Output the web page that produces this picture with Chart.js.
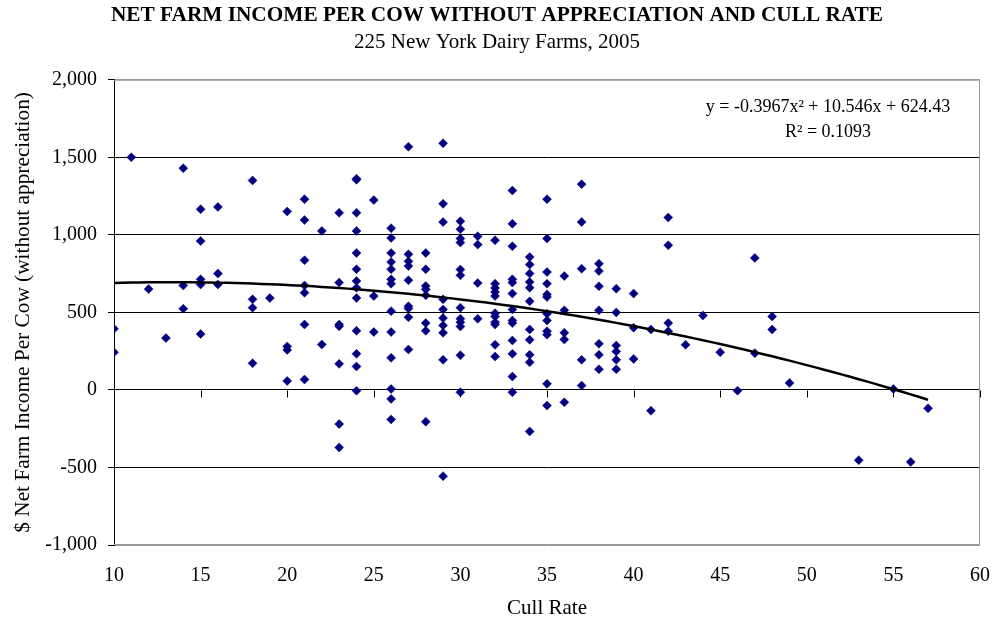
<!DOCTYPE html>
<html>
<head>
<meta charset="utf-8">
<script src="https://cdn.jsdelivr.net/npm/chart.js@4.4.0/dist/chart.umd.min.js"></script>
<style>
  html, body { margin: 0; padding: 0; background: #fff; }
  #wrap { width: 994px; height: 625px; }
</style>
</head>
<body>
<div id="wrap"><canvas id="myChart" width="994" height="625"></canvas></div>
<script>
// cull rate (x) and net farm income per cow (y), one farm per position
const cullRate = [
  10, 10, 11, 12, 13, 14, 14, 14,
  15, 15, 15, 15, 15, 16, 16, 16,
  18, 18, 18, 18, 19, 20, 20, 20, 20,
  21, 21, 21, 21, 21, 21, 21, 22, 22,
  23, 23, 23, 23, 23, 23, 23,
  24, 24, 24, 24, 24, 24, 24, 24, 24, 24, 24, 24, 24,
  25, 25, 25,
  26, 26, 26, 26, 26, 26, 26, 26, 26, 26, 26, 26, 26,
  27, 27, 27, 27, 27, 27, 27, 27, 27,
  28, 28, 28, 28, 28, 28, 28, 28,
  29, 29, 29, 29, 29, 29, 29, 29, 29, 29,
  30, 30, 30, 30, 30, 30, 30, 30, 30, 30, 30, 30,
  31, 31, 31, 31,
  32, 32, 32, 32, 32, 32, 32, 32, 32, 32, 32,
  33, 33, 33, 33, 33, 33, 33, 33, 33, 33, 33, 33, 33,
  34, 34, 34, 34, 34, 34, 34, 34, 34, 34, 34,
  35, 35, 35, 35, 35, 35, 35, 35, 35, 35, 35, 35,
  36, 36, 36, 36, 36,
  37, 37, 37, 37, 37,
  38, 38, 38, 38, 38, 38, 38,
  39, 39, 39, 39, 39, 39,
  40, 40, 40, 41, 41,
  42, 42, 42, 42, 43, 44, 45, 46, 47, 47, 48, 48, 49,
  53, 55, 56, 57
];
const netIncome = [
  394, 243, 1500, 650, 334, 1430, 674, 524,
  1165, 960, 713, 680, 360, 1180, 750, 680,
  1351, 584, 530, 172, 592, 1150, 280, 258, 58,
  1230, 1095, 836, 674, 627, 422, 67, 1025, 293,
  1142, 692, 422, 410, 168, -220, -371,
  1362, 1355, 1142, 1025, 883, 778, 702, 659, 592, 381, 233, 151, -5,
  1224, 605, 373,
  1043, 980, 883, 825, 778, 713, 685, 508, 373, 207, 6, -58, -190,
  1568, 875, 829, 799, 707, 540, 525, 469, 261,
  883, 778, 670, 648, 610, 431, 381, -205,
  1590, 1200, 1082, 584, 519, 463, 416, 368, 194, -556,
  1088, 1036, 976, 950, 776, 739, 530, 459, 437, 409, 224, -15,
  991, 937, 689, 459,
  965, 685, 657, 631, 605, 495, 474, 437, 422, 291, 215,
  1286, 1071, 926, 713, 692, 621, 519, 448, 431, 319, 233, 86, -15,
  857, 808, 750, 696, 659, 571, 390, 323, 226, 178, -268,
  1230, 976, 760, 685, 616, 599, 491, 448, 379, 356, 39, -101,
  734, 513, 368, 325, -80,
  1327, 1082, 782, 194, 28,
  814, 767, 668, 513, 297, 226, 133,
  653, 500, 286, 248, 194, 133,
  621, 401, 200, 390, -134,
  1112, 933, 431, 379, 291, 480, 243, -5, 851, 237, 474, 390, 45,
  -453, 6, -464, -119
];

// polynomial trendline shown on the chart: y = a*x^2 + b*x + c
const trendCoef = [-0.3967, 10.546, 624.43];
const trendRange = [10, 57];
const trendLabel = 'y = -0.3967x\u00B2 + 10.546x + 624.43';
const r2Label = 'R\u00B2 = 0.1093';

const xTicks = [10, 15, 20, 25, 30, 35, 40, 45, 50, 55, 60];

const points = cullRate.map((x, i) => ({ x: x, y: netIncome[i] }));

const trend = [];
for (let x = trendRange[0]; x <= trendRange[1] + 1e-9; x += 0.5) {
  trend.push({ x: x, y: trendCoef[0] * x * x + trendCoef[1] * x + trendCoef[2] });
}

const serif = 'Liberation Serif, Times New Roman, serif';

// grey plot border, tick marks on the zero line, equation text
const extras = {
  id: 'extras',
  beforeDatasetsDraw(chart) {
    const { ctx, chartArea: a, scales } = chart;
    ctx.save();
    ctx.strokeStyle = '#999';
    ctx.lineWidth = 1;
    ctx.beginPath();
    ctx.moveTo(a.left, a.top + 0.5);
    ctx.lineTo(a.right - 0.5, a.top + 0.5);
    ctx.lineTo(a.right - 0.5, a.bottom - 0.5);
    ctx.lineTo(a.left, a.bottom - 0.5);
    ctx.stroke();
    const y0 = Math.round(scales.y.getPixelForValue(0)) + 0.5;
    ctx.strokeStyle = '#000';
    ctx.beginPath();
    xTicks.forEach(v => {
      const px = Math.round(scales.x.getPixelForValue(v)) + 0.5;
      ctx.moveTo(px, y0);
      ctx.lineTo(px, y0 + 7);
    });
    ctx.stroke();
    ctx.restore();
  },
  afterDraw(chart) {
    const { ctx, chartArea: a } = chart;
    ctx.save();
    ctx.fillStyle = '#000';
    ctx.font = '18px ' + serif;
    ctx.textAlign = 'center';
    ctx.textBaseline = 'middle';
    ctx.fillText(trendLabel, a.right - 152, a.top + 28);
    ctx.fillText(r2Label, a.right - 152, a.top + 53);
    ctx.restore();
  }
};

const ctx = document.getElementById('myChart').getContext('2d');
new Chart(ctx, {
  type: 'scatter',
  data: {
    datasets: [
      {
        type: 'line',
        label: 'Trend',
        data: trend,
        borderColor: '#000',
        borderWidth: 2.5,
        pointRadius: 0,
        fill: false,
        tension: 0
      },
      {
        label: 'Farms',
        data: points,
        pointStyle: 'rectRot',
        pointRadius: 4.5,
        pointBorderWidth: 0.5,
        backgroundColor: '#000080',
        borderColor: '#000080'
      }
    ]
  },
  options: {
    responsive: false,
    animation: false,
    events: [],
    layout: { padding: 0 },
    plugins: {
      legend: { display: false },
      tooltip: { enabled: false },
      title: {
        display: true,
        text: 'NET FARM INCOME PER COW WITHOUT APPRECIATION AND CULL RATE',
        color: '#000',
        font: { family: serif, size: 21.3, weight: 'bold' },
        padding: { top: 3, bottom: 1 }
      },
      subtitle: {
        display: true,
        text: '225 New York Dairy Farms, 2005',
        color: '#000',
        font: { family: serif, size: 21, weight: 'normal' },
        padding: { top: 0, bottom: 25 }
      }
    },
    scales: {
      x: {
        type: 'linear',
        min: 10,
        max: 60,
        afterFit(scale) {
          scale.height = 80;
          scale.paddingLeft = 0;
          scale.paddingRight = 14;
        },
        afterBuildTicks(scale) { scale.ticks = xTicks.map(v => ({ value: v })); },
        grid: { display: false, drawTicks: false },
        border: { display: false },
        ticks: {
          color: '#000',
          padding: 19,
          font: { family: serif, size: 20 }
        },
        title: {
          display: true,
          text: 'Cull Rate',
          color: '#000',
          font: { family: serif, size: 21 },
          padding: { top: 0, bottom: 4 }
        }
      },
      y: {
        min: -1000,
        max: 2000,
        afterFit(scale) { scale.width = 114; },
        grid: {
          color: c => (c.tick && (c.tick.value === 2000 || c.tick.value === -1000)) ? '#999' : '#000',
          tickColor: '#000',
          tickLength: 6,
          lineWidth: 1
        },
        border: { display: true, color: '#000', width: 1 },
        ticks: {
          stepSize: 500,
          color: '#000',
          padding: 11,
          font: { family: serif, size: 20 }
        },
        title: {
          display: true,
          text: '$ Net Farm Income Per Cow (without appreciation)',
          color: '#000',
          font: { family: serif, size: 21.3 },
          padding: { top: 11, bottom: 0 }
        }
      }
    }
  },
  plugins: [extras]
});
</script>
</body>
</html>
